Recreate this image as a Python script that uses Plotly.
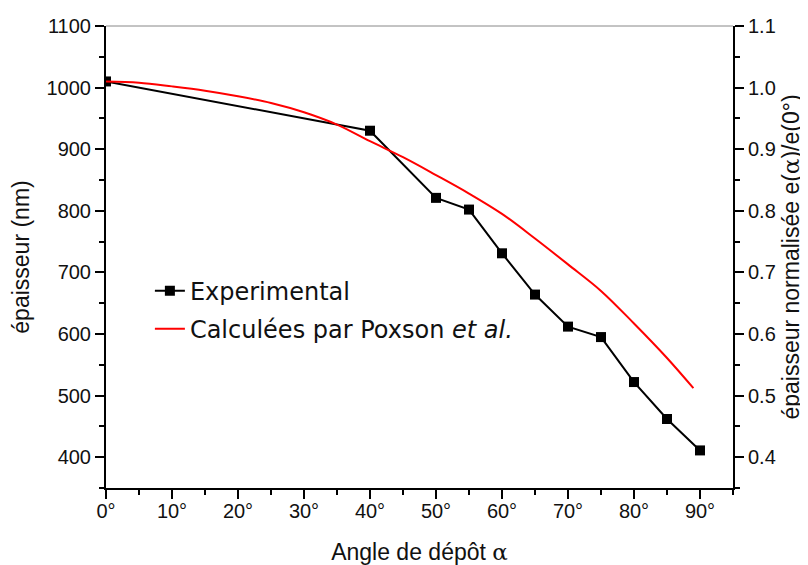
import plotly.graph_objects as go

# Experimental data (nm)
exp_angle = [0, 40, 50, 55, 60, 65, 70, 75, 80, 85, 90]
exp_thick = [1010, 930, 821, 802, 731, 664, 612, 595, 522, 462, 411]

# Calculated (Poxson et al.) curve (nm)
calc_angle = [0, 5, 10, 15, 20, 25, 30, 35, 40, 45, 50, 55, 60, 65, 70, 75, 80, 85, 89]
calc_thick = [1010, 1008, 1002, 995, 986, 975, 960, 940, 913, 887, 858, 828, 795, 755, 713, 670, 617, 561, 512]

x_ticks = [0, 10, 20, 30, 40, 50, 60, 70, 80, 90]
x_labels = ["0°", "10°", "20°", "30°", "40°", "50°", "60°", "70°", "80°", "90°"]
y_ticks = [400, 500, 600, 700, 800, 900, 1000, 1100]
y2_ticks = [0.4, 0.5, 0.6, 0.7, 0.8, 0.9, 1.0, 1.1]

tick_font = dict(family="Liberation Sans, Arial, sans-serif", size=20, color="#111")
title_font = dict(family="Liberation Sans, Arial, sans-serif", size=23, color="#111")
alpha = '<span style="font-family:DejaVu Serif, serif">α</span>'

fig = go.Figure()
fig.add_trace(go.Scatter(
    x=exp_angle, y=exp_thick, mode="lines+markers", name="Experimental",
    legendgroup="a",
    line=dict(color="black", width=2),
    marker=dict(symbol="square", size=10, color="black"),
))
fig.add_trace(go.Scatter(
    x=calc_angle, y=[v / 1000 for v in calc_thick], mode="lines",
    name="Calculées par Poxson <i>et al.</i>", legendgroup="b",
    line=dict(color="#ff0000", width=2, shape="spline"), yaxis="y2",
))

fig.update_layout(
    width=800, height=557,
    margin=dict(l=98, r=75, t=18, b=77),
    plot_bgcolor="white", paper_bgcolor="white",
    showlegend=True,
    legend=dict(
        x=0.07, y=0.475, xanchor="left", yanchor="top",
        bgcolor="rgba(0,0,0,0)",
        font=dict(family="DejaVu Sans, Verdana, sans-serif", size=24, color="#111"),
        tracegroupgap=4, itemwidth=30,
    ),
    xaxis=dict(
        range=[0, 95], tickvals=x_ticks, ticktext=x_labels,
        showline=True, linecolor="black", linewidth=2,
        ticks="outside", ticklen=9, tickwidth=1.5, tickcolor="black",
        minor=dict(dtick=5, ticks="outside", ticklen=5, tickwidth=1.5, tickcolor="black", showgrid=False),
        showgrid=False, zeroline=False, automargin=False,
        tickfont=tick_font, ticklabelstandoff=-5,
        title=dict(text="Angle de dépôt " + alpha, font=title_font, standoff=23),
    ),
    yaxis=dict(
        range=[350, 1100], tickvals=y_ticks,
        showline=True, linecolor="black", linewidth=2,
        ticks="outside", ticklen=9, tickwidth=1.5, tickcolor="black",
        minor=dict(dtick=50, ticks="outside", ticklen=5, tickwidth=1.5, tickcolor="black", showgrid=False),
        showgrid=False, zeroline=False, automargin=False,
        tickfont=tick_font,
        title=dict(text="épaisseur (nm)", font=title_font, standoff=14),
    ),
    yaxis2=dict(
        range=[0.35, 1.1], tickvals=y2_ticks, tickformat=".1f",
        overlaying="y", side="right", anchor="x",
        showline=True, linecolor="black", linewidth=2,
        ticks="outside", ticklen=9, tickwidth=1.5, tickcolor="black",
        minor=dict(dtick=0.05, ticks="outside", ticklen=5, tickwidth=1.5, tickcolor="black", showgrid=False),
        showgrid=False, zeroline=False, automargin=False,
        tickfont=tick_font,
        title=dict(text="épaisseur normalisée e(" + alpha + ")/e(0°)", font=title_font, standoff=8),
    ),
    shapes=[dict(type="line", xref="paper", yref="paper", x0=0, x1=1, y0=1, y1=1,
                 line=dict(color="#888", width=1))],
)

fig.write_html("out.html")
